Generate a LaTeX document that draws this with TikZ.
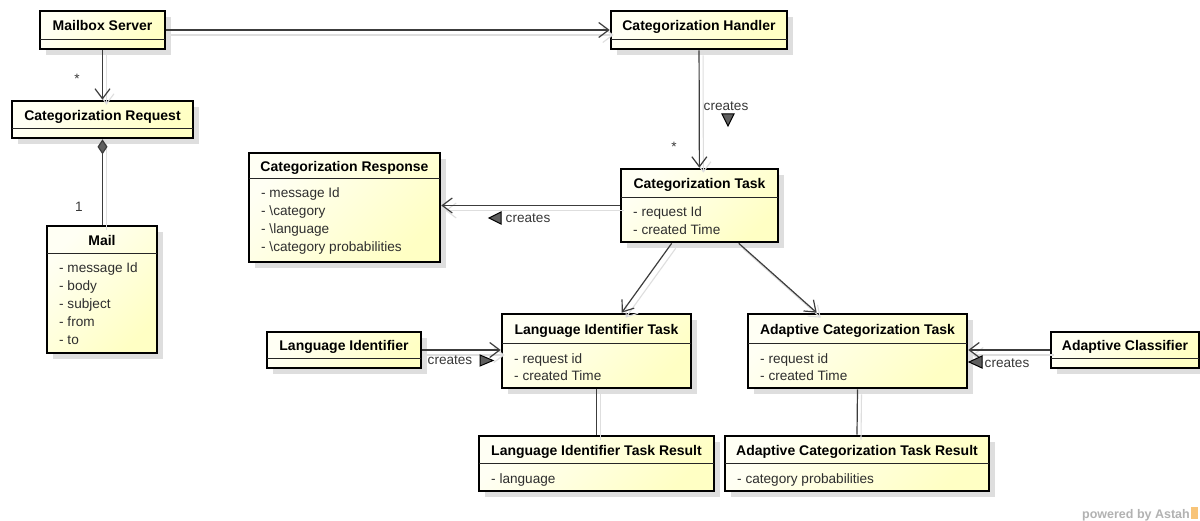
\documentclass[tikz,border=0pt]{standalone}
\usepackage{fontspec}
\setmainfont{Liberation Sans}
\usetikzlibrary{arrows.meta,fit,calc}

\definecolor{boxA}{RGB}{255,255,244}
\definecolor{boxB}{RGB}{255,255,196}
\definecolor{lineC}{RGB}{60,60,60}
\definecolor{shadowC}{RGB}{222,222,222}
\definecolor{triC}{RGB}{95,95,95}
\definecolor{logoC}{RGB}{248,196,120}

\tikzset{
  classbox/.style={draw=black, line width=2.6pt, top color=boxA, bottom color=boxB,
                   shading angle=45, inner sep=0pt},
  boxshadow/.style={fill=shadowC},
  divline/.style={draw=black!85, line width=0.9pt},
  titletext/.style={font=\fontsize{14}{16}\selectfont\bfseries, inner sep=0pt, anchor=base},
  attrtext/.style={font=\fontsize{13.6}{18}\selectfont, text=black!82, inner sep=0pt, anchor=base west},
  conn/.style={draw=lineC, line width=1.2pt},
  connshadow/.style={draw=shadowC, line width=1.1pt, transform canvas={shift={(4pt,-5pt)}}},
  opentip/.style={-{Straight Barb[length=10pt,width=15pt]}},
  marktext/.style={font=\fontsize{13.6}{16}\selectfont, text=black!78, inner sep=0pt, anchor=base},
  tri/.style={fill=triC, draw=black, line width=1pt, line join=miter},
}

% class with an empty attribute compartment
\newcommand\umlclass[7]{%
  \fill[boxshadow] (#2+6,#3+6) rectangle (#4+6,#5+6);
  \node[classbox, fit={(#2,#3) (#4,#5)}] (#1) {};
  \draw[divline] (#2,#6) -- (#4,#6);
  \node[titletext] (#1-title) at ({(#2+#4)/2},{(#3+#6)/2+6}) {#7};
}
% class with a list of attributes
\newcommand\umlclassattrs[8]{%
  \umlclass{#1}{#2}{#3}{#4}{#5}{#6}{#7}%
  \foreach \a [count=\i from 0] in {#8} {
    \node[attrtext] (#1-attr\i) at (#2+12,#6+20+18*\i) {\a};
  }%
}

\begin{document}
\begin{tikzpicture}[x=1pt,y=-1pt]
\useasboundingbox[fill=white] (0,0) rectangle (1200,521);

% classes
\umlclass{ms}{40}{11}{165}{49}{39}{Mailbox Server}
\umlclass{cr}{12}{101}{193}{138}{128}{Categorization Request}
\umlclassattrs{mail}{47}{226}{157}{353}{253}{Mail}{- message Id,- body,- subject,- from,- to}
\umlclass{ch}{611}{11}{787}{49}{39}{Categorization Handler}
\umlclassattrs{ct}{621}{169}{778}{242}{197}{Categorization Task}{- request Id,- created Time}
\umlclassattrs{rsp}{249}{153}{440}{262}{178}{Categorization Response}%
  {- message Id,- \textbackslash category,- \textbackslash language,- \textbackslash category probabilities}
\umlclass{li}{267}{332}{421}{368}{358}{Language Identifier}
\umlclassattrs{lit}{502}{314}{691}{388}{343}{Language Identifier Task}{- request id,- created Time}
\umlclassattrs{act}{748}{314}{967}{388}{343}{Adaptive Categorization Task}{- request id,- created Time}
\umlclass{ac}{1051}{332}{1199}{368}{358}{Adaptive Classifier}
\umlclassattrs{litr}{479}{436}{714}{491}{463}{Language Identifier Task Result}{- language}
\umlclassattrs{actr}{725}{436}{989}{491}{463}{Adaptive Categorization Task Result}{- category probabilities}

% connector shadows
\begin{scope}[connshadow]
  \draw[opentip] (ms) -- (ch);
  \draw[opentip] (ms) -- (cr);
  \draw (cr.south) -- (cr.south |- mail.north);
  \draw[opentip] (ch) -- (ct);
  \draw[opentip] (ct.west) -- (ct.west -| rsp.east);
  \draw[opentip] ([xshift=52pt]ct.south west) -- ([xshift=121pt]lit.north west);
  \draw[opentip] ([xshift=119pt]ct.south west) -- ([xshift=70pt]act.north west);
  \draw[opentip] (li.east) -- (li.east -| lit.west);
  \draw[opentip] (ac.west) -- (ac.west -| act.east);
  \draw (lit.south) -- (litr.north);
  \draw (act.south) -- (actr.north);
\end{scope}

% connectors
\draw[conn, opentip] (ms) -- (ch);
\draw[conn, opentip] (ms) -- (cr);
\draw[conn, {Diamond[length=15pt,width=10pt,fill=triC]}-] (cr.south) -- (cr.south |- mail.north);
\draw[conn, opentip] (ch) -- (ct);
\draw[conn, opentip] (ct.west) -- (ct.west -| rsp.east);
\draw[conn, opentip] ([xshift=52pt]ct.south west) -- ([xshift=121pt]lit.north west);
\draw[conn, opentip] ([xshift=119pt]ct.south west) -- ([xshift=70pt]act.north west);
\draw[conn, opentip] (li.east) -- (li.east -| lit.west);
\draw[conn, opentip] (ac.west) -- (ac.west -| act.east);
\draw[conn] (lit.south) -- (litr.north);
\draw[conn] (act.south) -- (actr.north);

% multiplicities
\node[marktext] (m1) at (77,84) {*};
\node[marktext] (m2) at (674,152) {*};
\node[marktext] (m3) at (79,212) {1};

% "creates" labels with direction triangles
\node[marktext] (c1) at (726,111) {creates};
\draw[tri] (722,114) -- (734,114) -- (728,126) -- cycle;
\node[marktext] (c2) at (528,223) {creates};
\draw[tri] (489,218) -- (501,212) -- (501,224) -- cycle;
\node[marktext] (c3) at (450,365) {creates};
\draw[tri] (480,355) -- (493,360.5) -- (480,366) -- cycle;
\node[marktext] (c4) at (1007,368) {creates};
\draw[tri] (969,362) -- (982,356) -- (982,368) -- cycle;

% tool watermark
\node[font=\fontsize{12.5}{14}\selectfont\bfseries, text=black!30, inner sep=0pt, anchor=base east]
  (wm) at (1190,518) {powered by Astah};
\fill[logoC] (1191,507) rectangle (1198,519);
\end{tikzpicture}
\end{document}
